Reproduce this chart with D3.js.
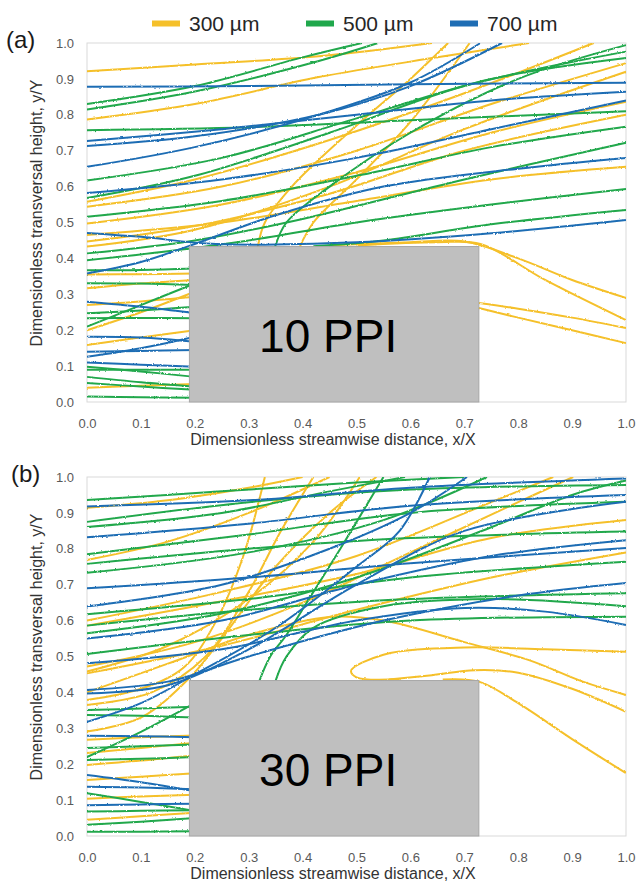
<!DOCTYPE html>
<html>
<head>
<meta charset="utf-8">
<script src="https://cdn.jsdelivr.net/npm/d3@7"></script>
<style>
  body { margin: 0; background: #fff; }
  text { font-family: "Liberation Sans", Arial, sans-serif; }
</style>
</head>
<body>
<script>
// streamlines, each one is a list of [x/X, y/Y]

// ---- panel (a) 10 PPI ----
const linesA300 = [
  [[0,0.921],[0.2,0.94],[0.43,0.963],[0.64,1.0]],
  [[0,0.787],[0.2,0.83],[0.43,0.905],[0.65,0.96],[0.82,1.0]],
  [[0,0.558],[0.2,0.62],[0.45,0.73],[0.7,0.86],[0.94,1.0]],
  [[0,0.544],[0.25,0.6],[0.5,0.7],[0.75,0.83],[1,0.944]],
  [[0,0.497],[0.25,0.55],[0.5,0.64],[0.75,0.75],[1,0.836]],
  [[0,0.465],[0.25,0.5],[0.5,0.56],[0.75,0.62],[1,0.655]],
  [[0,0.447],[0.2,0.49],[0.45,0.58],[0.7,0.7],[1,0.8]],
  [[0,0.433],[0.2,0.48],[0.45,0.6],[0.7,0.76],[1,0.92]],
  [[0.317,0.433],[0.33,0.5],[0.38,0.6],[0.5,0.77],[0.6,0.9],[0.67,1.0]],
  [[0.395,0.433],[0.42,0.5],[0.5,0.62],[0.6,0.78],[0.71,1.0]],
  [[0.45,0.436],[0.6,0.445],[0.7,0.447],[0.8,0.4],[0.9,0.34],[1,0.29]],
  [[0.5,0.436],[0.65,0.445],[0.73,0.44],[0.85,0.34],[1,0.228]],
  [[0.727,0.276],[0.8,0.26],[0.9,0.235],[1,0.206]],
  [[0.727,0.262],[0.8,0.235],[0.9,0.2],[1,0.164]],
  [[0,0.355],[0.1,0.356],[0.2,0.358]],
  [[0,0.317],[0.1,0.33],[0.2,0.34]],
  [[0,0.27],[0.1,0.28],[0.2,0.293]],
  [[0,0.2],[0.1,0.25],[0.2,0.307]],
  [[0,0.159],[0.1,0.18],[0.2,0.2]],
  [[0,0.04],[0.1,0.045],[0.2,0.05]]
]
const linesA500 = [
  [[0,0.83],[0.2,0.88],[0.4,0.96],[0.51,1.0]],
  [[0,0.815],[0.2,0.865],[0.43,0.95],[0.54,1.0]],
  [[0,0.757],[0.3,0.765],[0.6,0.785],[1,0.81]],
  [[0,0.617],[0.25,0.68],[0.5,0.79],[0.75,0.9],[1,0.958]],
  [[0,0.568],[0.2,0.63],[0.45,0.75],[0.7,0.88],[1,0.976]],
  [[0,0.516],[0.25,0.56],[0.5,0.63],[0.75,0.71],[1,0.767]],
  [[0,0.414],[0.2,0.45],[0.4,0.51],[0.7,0.62],[1,0.722]],
  [[0,0.395],[0.15,0.42],[0.3,0.45],[0.5,0.5],[0.75,0.55],[1,0.593]],
  [[0.349,0.433],[0.37,0.5],[0.45,0.6],[0.6,0.75],[0.8,0.9],[1,0.994]],
  [[0.42,0.434],[0.55,0.45],[0.75,0.495],[1,0.535]],
  [[0,0.367],[0.1,0.368],[0.2,0.372]],
  [[0,0.331],[0.1,0.33],[0.2,0.326]],
  [[0,0.247],[0.1,0.255],[0.2,0.265]],
  [[0,0.233],[0.1,0.234],[0.2,0.233]],
  [[0,0.21],[0.1,0.27],[0.2,0.33]],
  [[0,0.098],[0.1,0.085],[0.2,0.07]],
  [[0,0.09],[0.1,0.09],[0.2,0.09]],
  [[0,0.07],[0.1,0.055],[0.2,0.043]],
  [[0,0.053],[0.1,0.043],[0.2,0.034]],
  [[0,0.015],[0.1,0.013],[0.2,0.012]]
]
const linesA700 = [
  [[0,0.878],[0.3,0.88],[0.6,0.885],[1,0.889]],
  [[0,0.727],[0.25,0.76],[0.5,0.8],[0.75,0.84],[1,0.864]],
  [[0,0.713],[0.2,0.74],[0.43,0.8],[0.6,0.88],[0.77,1.0]],
  [[0,0.655],[0.2,0.71],[0.43,0.8],[0.6,0.89],[0.73,1.0]],
  [[0,0.582],[0.25,0.62],[0.5,0.68],[0.75,0.76],[1,0.84]],
  [[0,0.471],[0.1,0.46],[0.24,0.44],[0.5,0.445],[0.75,0.47],[1,0.507]],
  [[0,0.358],[0.1,0.39],[0.19,0.435],[0.35,0.52],[0.55,0.6],[0.8,0.65],[1,0.68]],
  [[0,0.279],[0.1,0.265],[0.2,0.247]],
  [[0,0.182],[0.1,0.18],[0.2,0.168]],
  [[0,0.14],[0.1,0.142],[0.2,0.145]],
  [[0,0.126],[0.1,0.15],[0.2,0.182]],
  [[0,0.11],[0.1,0.104],[0.2,0.098]]
]

// ---- panel (b) 30 PPI ----
const linesB300 = [
  [[0,0.914],[0.15,0.935],[0.3,0.97],[0.4,1.0]],
  [[0,0.769],[0.15,0.82],[0.3,0.9],[0.45,1.0]],
  [[0,0.6],[0.25,0.68],[0.5,0.78],[0.75,0.93],[0.865,1.0]],
  [[0,0.586],[0.2,0.64],[0.5,0.73],[0.75,0.83],[1,0.88]],
  [[0,0.472],[0.2,0.54],[0.4,0.65],[0.6,0.79],[0.8,0.93],[0.902,1.0]],
  [[0,0.458],[0.15,0.53],[0.3,0.66],[0.42,0.82],[0.506,1.0]],
  [[0,0.453],[0.25,0.53],[0.5,0.63],[0.75,0.72],[1,0.79]],
  [[0,0.379],[0.1,0.41],[0.18,0.47],[0.24,0.6],[0.29,0.78],[0.33,1.0]],
  [[0,0.365],[0.12,0.4],[0.22,0.5],[0.3,0.68],[0.36,0.85],[0.42,1.0]],
  [[0,0.291],[0.1,0.33],[0.19,0.44],[0.25,0.55],[0.35,0.75],[0.45,0.9],[0.537,1.0]],
  [[0,0.4],[0.15,0.48],[0.3,0.56],[0.45,0.61],[0.55,0.6],[0.7,0.54],[0.82,0.49],[0.92,0.43],[1,0.393]],
  [[0.58,0.437],[0.5,0.442],[0.49,0.46],[0.55,0.505],[0.7,0.525],[0.85,0.52],[1,0.513]],
  [[0.56,0.436],[0.64,0.448],[0.72,0.462],[0.8,0.455],[0.9,0.41],[1,0.346]],
  [[0.66,0.436],[0.727,0.43],[0.8,0.37],[0.9,0.27],[1,0.175]],
  [[0,0.268],[0.1,0.275],[0.2,0.28]],
  [[0,0.231],[0.1,0.245],[0.2,0.26]],
  [[0,0.198],[0.1,0.21],[0.2,0.225]],
  [[0,0.156],[0.1,0.165],[0.2,0.175]],
  [[0,0.104],[0.1,0.11],[0.2,0.115]],
  [[0,0.045],[0.1,0.055],[0.2,0.065]]
]
const linesB500 = [
  [[0,0.936],[0.25,0.96],[0.5,0.985],[0.7,1.0]],
  [[0,0.875],[0.3,0.93],[0.6,0.965],[1,0.978]],
  [[0,0.861],[0.25,0.9],[0.45,0.96],[0.59,1.0]],
  [[0,0.785],[0.3,0.84],[0.6,0.9],[1,0.931]],
  [[0,0.758],[0.3,0.8],[0.6,0.83],[1,0.848]],
  [[0,0.733],[0.3,0.79],[0.55,0.88],[0.742,1.0]],
  [[0,0.618],[0.3,0.66],[0.6,0.72],[1,0.764]],
  [[0,0.586],[0.3,0.63],[0.6,0.66],[1,0.676]],
  [[0,0.565],[0.25,0.62],[0.5,0.72],[0.75,0.86],[0.9,0.95],[1,0.99]],
  [[0,0.507],[0.3,0.56],[0.6,0.6],[1,0.611]],
  [[0.32,0.433],[0.34,0.5],[0.37,0.56],[0.42,0.68],[0.47,0.8],[0.55,1.0]],
  [[0.35,0.433],[0.37,0.5],[0.42,0.58],[0.55,0.64],[0.75,0.66],[1,0.64]],
  [[0,0.351],[0.1,0.355],[0.2,0.36]],
  [[0,0.337],[0.1,0.335],[0.2,0.33]],
  [[0,0.245],[0.1,0.25],[0.2,0.255]],
  [[0,0.22],[0.1,0.29],[0.2,0.37]],
  [[0,0.212],[0.1,0.215],[0.2,0.22]],
  [[0,0.119],[0.1,0.095],[0.2,0.07]],
  [[0,0.068],[0.1,0.07],[0.2,0.072]],
  [[0,0.031],[0.1,0.04],[0.2,0.05]],
  [[0,0.012],[0.1,0.012],[0.2,0.013]]
]
const linesB700 = [
  [[0,0.918],[0.3,0.935],[0.6,0.97],[1,0.996]],
  [[0,0.832],[0.3,0.87],[0.6,0.92],[1,0.95]],
  [[0,0.69],[0.3,0.72],[0.6,0.76],[1,0.802]],
  [[0,0.639],[0.25,0.7],[0.45,0.8],[0.6,0.9],[0.705,1.0]],
  [[0,0.55],[0.25,0.6],[0.5,0.7],[0.75,0.78],[1,0.824]],
  [[0,0.481],[0.25,0.52],[0.5,0.6],[0.7,0.635],[0.85,0.625],[1,0.588]],
  [[0,0.407],[0.15,0.43],[0.3,0.5],[0.55,0.6],[0.8,0.67],[1,0.705]],
  [[0,0.397],[0.15,0.42],[0.3,0.52],[0.5,0.7],[0.7,0.85],[1,0.931]],
  [[0,0.318],[0.1,0.37],[0.2,0.45],[0.35,0.58],[0.5,0.75],[0.58,0.85],[0.636,1.0]],
  [[0,0.279],[0.1,0.278],[0.2,0.275]],
  [[0,0.17],[0.1,0.15],[0.2,0.125]],
  [[0,0.137],[0.1,0.135],[0.2,0.13]],
  [[0,0.086],[0.1,0.088],[0.2,0.09]]
]

const seriesNames = ['300 µm', '500 µm', '700 µm']
const seriesColors = ['#f5c02a', '#20a84c', '#1f6db4']
const panelLabels = ['(a)', '(b)']
const blockLabels = ['10 PPI', '30 PPI']
const blockX = [0.19, 0.727]
const blockY = [0, 0.433]
const ticks = [0, 0.1, 0.2, 0.3, 0.4, 0.5, 0.6, 0.7, 0.8, 0.9, 1.0]

const panels = [
  [linesA300, linesA500, linesA700],
  [linesB300, linesB500, linesB700]
]

const W = 639, H = 881
const LEFT = 87, PW = 539, PH = 359
const TOPS = [43, 477]

const svg = d3.select('body').append('svg')
  .attr('width', W).attr('height', H)

// wobble like the measured traces
const defs = svg.append('defs')
const f = defs.append('filter').attr('id', 'wob')
  .attr('filterUnits', 'userSpaceOnUse')
  .attr('x', -5).attr('y', -5).attr('width', PW + 10).attr('height', PH + 10)
f.append('feTurbulence').attr('type', 'fractalNoise')
  .attr('baseFrequency', '0.6').attr('numOctaves', 1).attr('seed', 3).attr('result', 'n')
f.append('feDisplacementMap').attr('in', 'SourceGraphic').attr('in2', 'n')
  .attr('scale', 2.4).attr('xChannelSelector', 'R').attr('yChannelSelector', 'G')

// legend
const legX = [152, 306, 450]
seriesNames.forEach((s, i) => {
  svg.append('rect').attr('x', legX[i]).attr('y', 20.5).attr('width', 28).attr('height', 6)
    .attr('fill', seriesColors[i])
  svg.append('text').attr('x', legX[i] + 37).attr('y', 31)
    .attr('font-size', 21).attr('fill', '#262626').text(s)
})

const x = d3.scaleLinear().domain([0, 1]).range([0, PW])
const y = d3.scaleLinear().domain([0, 1]).range([PH, 0])
const line = d3.line().x(d => x(d[0])).y(d => y(d[1])).curve(d3.curveCatmullRom.alpha(0.5))

panels.forEach((series, p) => {
  const top = TOPS[p]
  const g = svg.append('g').attr('transform', `translate(${LEFT},${top})`)

  defs.append('clipPath').attr('id', 'clip' + p)
    .append('rect').attr('width', PW).attr('height', PH)

  g.append('rect').attr('width', PW).attr('height', PH)
    .attr('fill', '#fff').attr('stroke', '#d9d9d9')

  const lg = g.append('g').attr('clip-path', `url(#clip${p})`)
    .append('g').attr('filter', 'url(#wob)')
  series.forEach((lines, i) => {
    lg.selectAll(null).data(lines).enter().append('path')
      .attr('d', line)
      .attr('fill', 'none')
      .attr('stroke', seriesColors[i])
      .attr('stroke-width', 2)
  })

  // porous block
  g.append('rect')
    .attr('x', x(blockX[0])).attr('y', y(blockY[1]))
    .attr('width', x(blockX[1]) - x(blockX[0])).attr('height', y(blockY[0]) - y(blockY[1]))
    .attr('fill', '#bfbfbf').attr('stroke', '#a6a6a6')
  g.append('text')
    .attr('x', x((blockX[0] + blockX[1]) / 2) - 6).attr('y', 309)
    .attr('text-anchor', 'middle').attr('font-size', 46).attr('fill', '#000')
    .text(blockLabels[p])

  const ax = g.append('g').attr('transform', `translate(0,${PH})`)
    .call(d3.axisBottom(x).tickValues(ticks).tickFormat(d3.format('.1f')).tickSize(0).tickPadding(16.5))
  const ay = g.append('g')
    .call(d3.axisLeft(y).tickValues(ticks).tickFormat(d3.format('.1f')).tickSize(0).tickPadding(13))
  ;[ax, ay].forEach(a => {
    a.select('.domain').remove()
    a.selectAll('text').attr('font-size', 13).attr('fill', '#595959')
      .attr('font-family', '"Liberation Sans", Arial, sans-serif')
  })

  svg.append('text')
    .attr('transform', `translate(41.5,${top + 170}) rotate(-90)`)
    .attr('text-anchor', 'middle').attr('font-size', 16).attr('fill', '#333')
    .text('Dimensionless transversal height, y/Y')
  svg.append('text')
    .attr('x', 333).attr('y', top + PH + 42.5)
    .attr('text-anchor', 'middle').attr('font-size', 16).attr('fill', '#333')
    .text('Dimensionless streamwise distance, x/X')

  svg.append('text').attr('x', p === 0 ? 6 : 11).attr('y', top + 5)
    .attr('font-size', 24).attr('fill', '#1a1a1a').text(panelLabels[p])
})
</script>
</body>
</html>
